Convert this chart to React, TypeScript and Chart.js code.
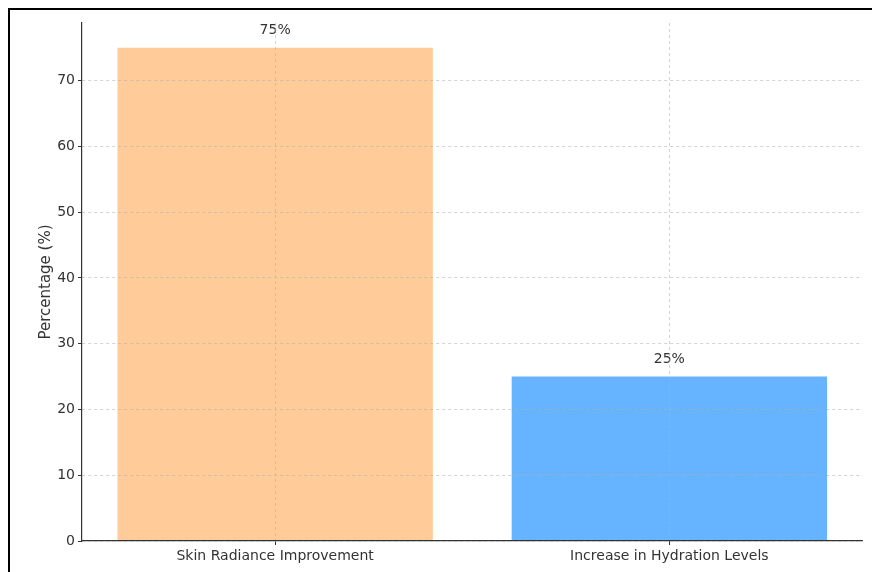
import React, { useEffect, useRef } from "react";
import { Chart, registerables } from "chart.js";

Chart.register(...registerables);

const categories: string[] = ["Skin Radiance Improvement", "Increase in Hydration Levels"];
const values: number[] = [75, 25];
const barColors: string[] = ["#FFCC99", "#66B3FF"];
const yTicks: number[] = [0, 10, 20, 30, 40, 50, 60, 70];
const yTitle = "Percentage (%)";

const FONT = "'DejaVu Sans', sans-serif";

const valueLabels = {
  id: "valueLabels",
  afterDatasetsDraw(chart: any) {
    const { ctx } = chart;
    const meta = chart.getDatasetMeta(0);
    const ys = chart.scales.y;
    ctx.save();
    ctx.fillStyle = "#333";
    ctx.font = `14px ${FONT}`;
    ctx.textAlign = "center";
    ctx.textBaseline = "bottom";
    meta.data.forEach((bar: any, i: number) => {
      const yPix = ys.getPixelForValue(values[i] + 1.5);
      ctx.fillText(`${values[i]}%`, bar.x, yPix);
    });
    ctx.restore();
  },
};

const gridOpts = {
  color: "rgba(176,176,176,0.7)",
  lineWidth: 0.8,
  drawTicks: true,
  tickLength: 4,
  tickColor: "#333",
  tickWidth: 1,
  offset: false,
  z: 1,
};

export default function App() {
  const ref = useRef<HTMLCanvasElement | null>(null);
  useEffect(() => {
    document.body.style.overflow = "hidden";
    const canvas = ref.current!;
    const chart = new Chart(canvas, {
      type: "bar",
      data: {
        datasets: [
          {
            data: values.map((v, i) => ({ x: i, y: v })),
            backgroundColor: barColors,
            borderWidth: 0,
            barPercentage: 0.8,
            categoryPercentage: 1.0,
          },
        ],
      },
      options: {
        responsive: false,
        animation: false,
        devicePixelRatio: 1,
        layout: { padding: { top: 13, right: 9.5, left: 0, bottom: 0 } },
        plugins: { legend: { display: false }, tooltip: { enabled: false }, title: { display: false } },
        scales: {
          x: {
            type: "linear",
            min: -0.49,
            max: 1.49,
            offset: false,
            afterBuildTicks: (scale: any) => {
              scale.ticks = categories.map((_, i) => ({ value: i }));
            },
            afterFit: (scale: any) => {
              scale.height = 31;
            },
            ticks: {
              callback: (v: any) => categories[v] ?? "",
              color: "#333",
              font: { family: FONT, size: 14 },
              padding: 3,
              maxRotation: 0,
              autoSkip: false,
            },
            grid: gridOpts,
            border: { display: true, color: "#333", width: 1.2, dash: [3, 3], z: 1 },
          },
          y: {
            min: 0,
            max: 78.75,
            afterBuildTicks: (scale: any) => {
              scale.ticks = yTicks.map((v) => ({ value: v }));
            },
            afterFit: (scale: any) => {
              scale.width = 72;
            },
            ticks: {
              color: "#333",
              font: { family: FONT, size: 14 },
              padding: 3,
            },
            grid: gridOpts,
            border: { display: true, color: "#333", width: 1.2, dash: [3, 3], z: 1 },
            title: {
              display: true,
              text: yTitle,
              color: "#333",
              font: { family: FONT, size: 15 },
              padding: { top: 27, bottom: 0 },
            },
          },
        },
      } as any,
      plugins: [valueLabels],
    });
    return () => chart.destroy();
  }, []);
  return (
    <div
      style={{
        position: "fixed",
        left: 8,
        top: 8,
        width: 864,
        height: 564,
        borderTop: "2px solid #000",
        borderLeft: "2px solid #000",
        boxSizing: "border-box",
        background: "#fff",
      }}
    >
      <canvas ref={ref} width={862} height={562} style={{ display: "block" }} />
    </div>
  );
}
